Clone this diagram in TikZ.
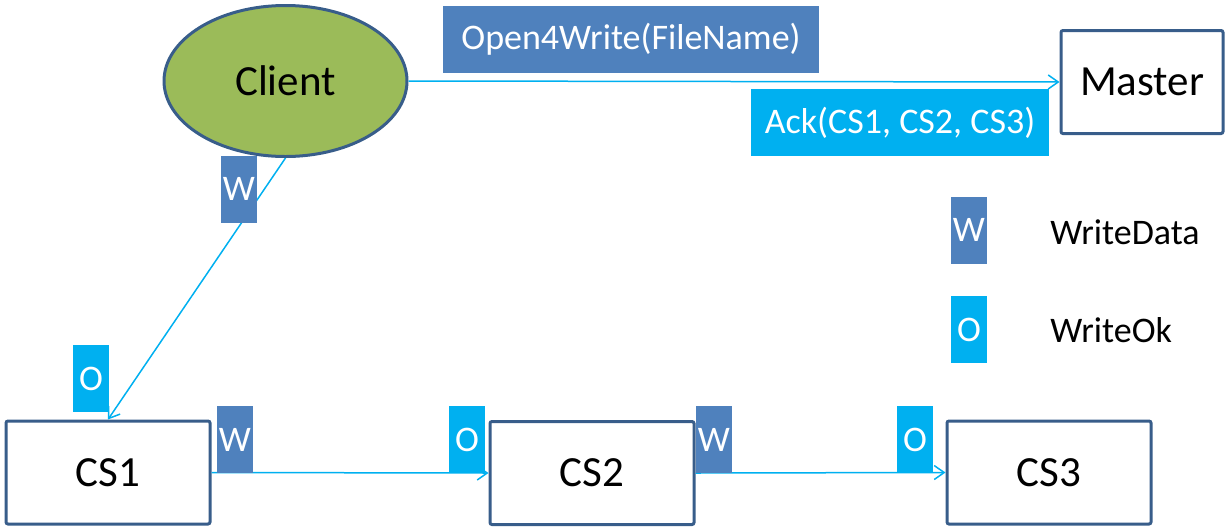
\documentclass[tikz,border=0pt]{standalone}
\usepackage{fontspec}
\setmainfont{Carlito}
\usetikzlibrary{positioning,arrows.meta,shapes.geometric}
\definecolor{msgBlue}{RGB}{79,129,189}
\definecolor{msgCyan}{RGB}{0,176,240}
\definecolor{clientGreen}{RGB}{155,187,89}
\definecolor{edgeBlue}{RGB}{56,93,138}

\begin{document}
\begin{tikzpicture}[
  x=.5pt,y=-.5pt,
  server/.style={draw=edgeBlue, line width=1.5pt, fill=white, rounded corners=1pt, minimum width=102pt, minimum height=51.5pt, inner sep=0pt, font=\fontsize{21.5}{24}\selectfont},
  client/.style={ellipse, draw=edgeBlue, line width=1.5pt, fill=clientGreen, minimum width=121.5pt, minimum height=75.5pt, inner sep=0pt, font=\fontsize{21.5}{24}\selectfont},
  tag/.style={text=white, inner sep=0pt, minimum width=18pt, minimum height=33.5pt, font=\fontsize{18}{20}\selectfont},
  wtag/.style={tag, fill=msgBlue},
  otag/.style={tag, fill=msgCyan},
  call/.style={draw=msgCyan, line width=.75pt, -{Straight Barb[length=5pt,width=7pt]}},
  legend/.style={anchor=west, inner sep=0pt, font=\fontsize{18}{20}\selectfont}
]
\path[use as bounding box] (0,0) rectangle (1231,531);

\node[client] (client) at (285.5,81) {Client};
\node[server, minimum width=81pt] (master) at (1142,82) {Master};
\node[server] (cs1) at (108,472.5) {CS1};
\node[server] (cs2) at (592,473) {CS2};
\node[server] (cs3) at (1049,472.5) {CS3};

\draw[call] (client.east) -- (master.west);
\draw[call] (client.south) -- (cs1.north);
\draw[call] (cs1.east) -- (cs2.west);
\draw[call] (cs2.east) -- (cs3.west);

\node[wtag, minimum width=188pt] (openMsg) at (631,39.5) {Open4Write(FileName)};
\node[otag, minimum width=149pt] (ackMsg) at (900,122.5) {Ack(CS1, CS2, CS3)};

\node[wtag] (wClient) at (239,189) {W};
\node[otag] (oCs1) at (91,378.5) {O};
\node[wtag] (wCs1) at (235,439.5) {W};
\node[otag] (oCs2) at (467,439.5) {O};
\node[wtag] (wCs2) at (714,439.5) {W};
\node[otag] (oCs3) at (915,439.5) {O};

% legend
\node[wtag] (wKey) at (969,230) {W};
\node[otag] (oKey) at (969,329.5) {O};
\node[legend] (wText) at (1050,232) {WriteData};
\node[legend] (oText) at (1050,330) {WriteOk};
\end{tikzpicture}
\end{document}
